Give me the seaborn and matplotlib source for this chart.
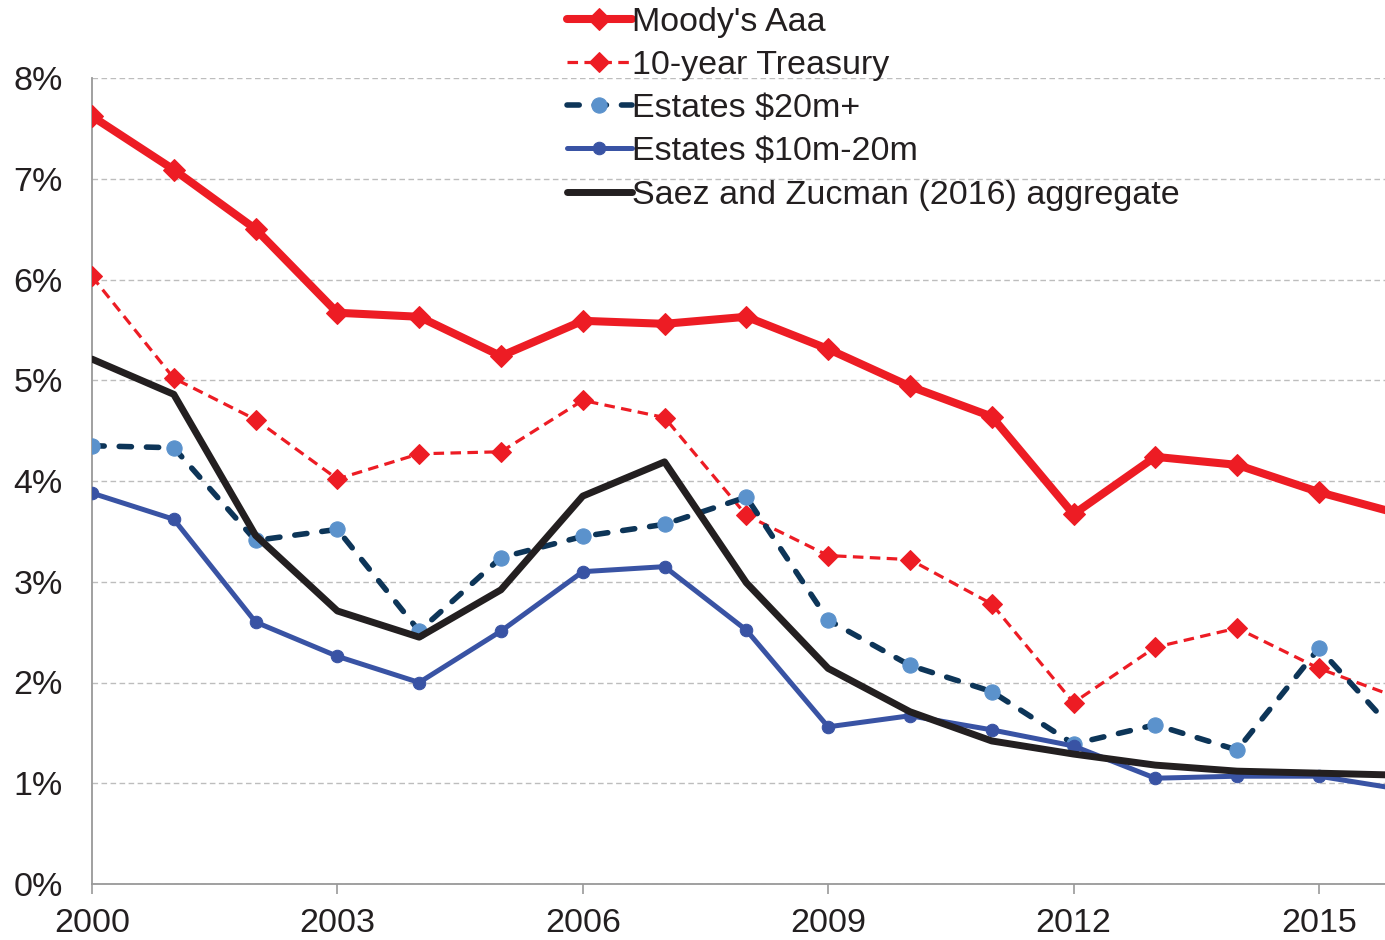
import matplotlib
matplotlib.use("Agg")
import matplotlib.pyplot as plt
import seaborn as sns
import numpy as np
from matplotlib.ticker import FuncFormatter, FixedLocator

years = list(range(2000, 2017))
moodys = [7.62, 7.09, 6.50, 5.67, 5.63, 5.24, 5.59, 5.56, 5.63, 5.31, 4.94, 4.64, 3.67, 4.24, 4.16, 3.89, 3.67]
treasury = [6.03, 5.02, 4.61, 4.02, 4.27, 4.29, 4.80, 4.63, 3.66, 3.26, 3.22, 2.78, 1.80, 2.35, 2.54, 2.14, 1.84]
est20 = [4.35, 4.33, 3.41, 3.52, 2.51, 3.24, 3.45, 3.57, 3.84, 2.62, 2.17, 1.91, 1.39, 1.58, 1.33, 2.34, 1.45]
est10 = [3.88, 3.62, 2.60, 2.26, 2.00, 2.51, 3.10, 3.15, 2.52, 1.56, 1.67, 1.53, 1.37, 1.05, 1.07, 1.07, 0.94]
saez = [5.21, 4.86, 3.46, 2.71, 2.45, 2.92, 3.85, 4.19, 2.99, 2.14, 1.71, 1.42, 1.29, 1.18, 1.12, 1.10, 1.08]
xticks = [2000, 2003, 2006, 2009, 2012, 2015]
labels = ["Moody's Aaa", "10-year Treasury", "Estates $20m+", "Estates $10m-20m", "Saez and Zucman (2016) aggregate"]

sns.set_theme(style="white")
plt.rcParams['font.family'] = ['Liberation Sans', 'DejaVu Sans']

fig = plt.figure(figsize=(13.85, 9.4), dpi=100)
ax = fig.add_axes([92/1385, 1 - 884/940, 1 - 92/1385 + 0.006, (884 - 78)/940])

red = '#ed1c24'
navy = '#0d3558'
lblue = '#5b92cc'
blue = '#3953a4'
black = '#231f20'

sns.lineplot(x=years, y=moodys, ax=ax, color=red, lw=5.8, marker='D', markersize=11,
             markeredgecolor=red, label=labels[0], zorder=5)
sns.lineplot(x=years, y=treasury, ax=ax, color=red, lw=2.3, marker='D', markersize=10,
             markeredgecolor=red, label=labels[1], zorder=3)
sns.lineplot(x=years, y=est20, ax=ax, color=navy, lw=4.0, marker='o', markersize=11,
             markerfacecolor=lblue, markeredgecolor=lblue, label=labels[2], zorder=4)
sns.lineplot(x=years, y=est10, ax=ax, color=blue, lw=3.6, marker='o', markersize=9,
             markeredgecolor=blue, label=labels[3], zorder=4)
sns.lineplot(x=years, y=saez, ax=ax, color=black, lw=5.0, label=labels[4], zorder=6)

lines = ax.get_lines()
lines[1].set_dashes([3.3, 2.0])
lines[2].set_dashes([2.2, 2.7])
lines[2].set_dash_capstyle('round')

ax.set_xlim(2000, 2015.91)
ax.set_ylim(0, 8)
ax.set_yticks(range(0, 9))
ax.yaxis.set_major_formatter(FuncFormatter(lambda v, p: f"{int(v)}%"))
ax.xaxis.set_major_locator(FixedLocator(xticks))
ax.set_xticklabels([str(t) for t in xticks])

ax.grid(axis='y', color='#bdbdbd', linestyle=(0, (4, 2.5)), lw=1.0)
ax.grid(axis='x', visible=False)
for s in ['top', 'right']:
    ax.spines[s].set_visible(False)
for s in ['left', 'bottom']:
    ax.spines[s].set_color('#999999')
    ax.spines[s].set_linewidth(1.3)

ax.tick_params(axis='x', which='major', direction='out', length=7, width=1.2, color='#999999',
               labelsize=24.5, pad=10, bottom=True, labelcolor='#231f20')
ax.tick_params(axis='y', length=0, labelsize=24.5, pad=21, labelcolor='#231f20')
ax.set_xlabel('')
ax.set_ylabel('')

leg = ax.legend(loc='upper left', bbox_to_anchor=(567/1385, 0.993), bbox_transform=fig.transFigure,
                frameon=False, fontsize=24.5, handlelength=1.9, handletextpad=0.0,
                labelspacing=0.36, borderpad=0.0, borderaxespad=0.0, numpoints=1)
for t in leg.get_texts():
    t.set_color('#231f20')

fig.savefig('out.png', dpi=100)
